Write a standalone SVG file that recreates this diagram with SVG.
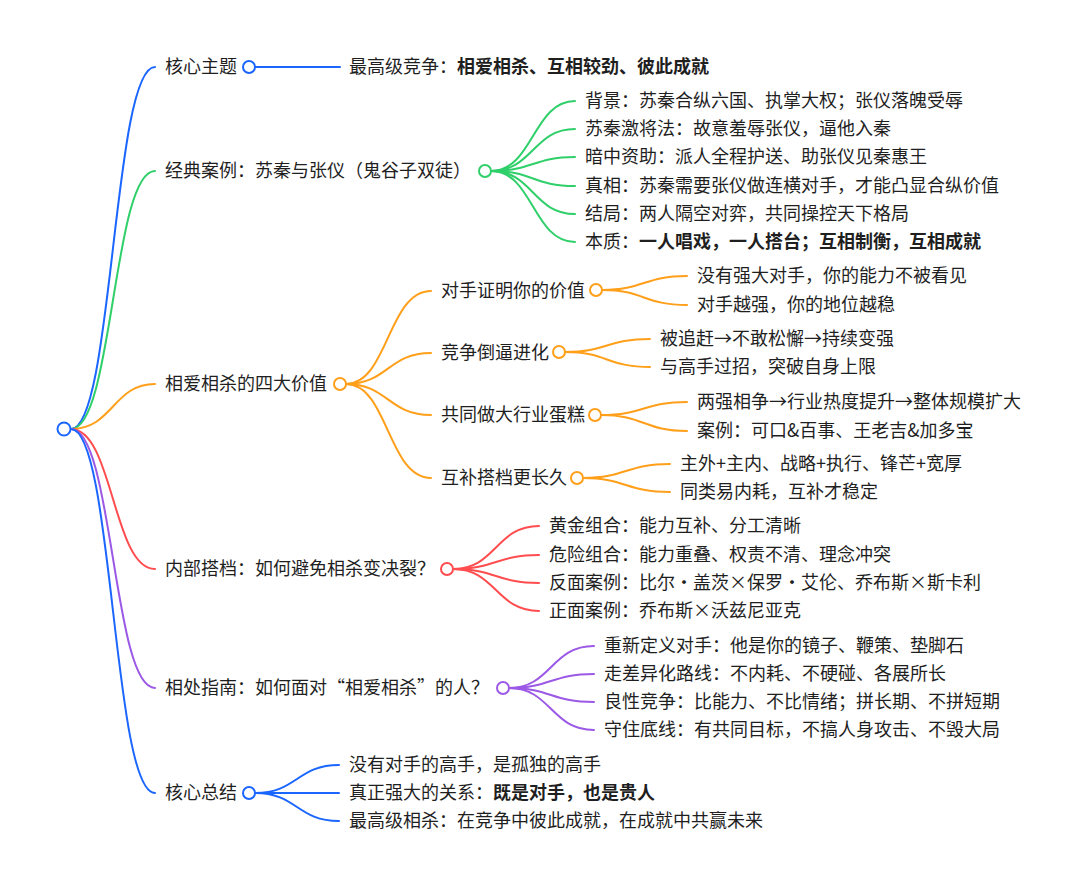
<svg xmlns="http://www.w3.org/2000/svg" width="1080" height="887" viewBox="0 0 1080 887">
<style>
text{font-family:"Noto Sans CJK SC","Noto Sans",sans-serif;font-size:18px;fill:#1f1f1f}
.b{font-weight:bold}
.ln{fill:none;stroke-width:2;stroke-linecap:round}
.dot{fill:#fff;stroke-width:2}
.blue{stroke:#1a66ff}.green{stroke:#2fcf6a}.orange{stroke:#ff9f1a}.red{stroke:#ff4d4f}.purple{stroke:#9b59e6}
</style>
<rect width="1080" height="887" fill="#fff"/>
<g id="connectors">
<path class="ln blue" d="M71 429 C113 429 113 67 155 67"/>
<path class="ln green" d="M71 429 C113 429 113 171 155 171"/>
<path class="ln orange" d="M71 429 C113 429 113 384 155 384"/>
<path class="ln red" d="M71 429 C113 429 113 569 155 569"/>
<path class="ln purple" d="M71 429 C113 429 113 688 155 688"/>
<path class="ln blue" d="M71 429 C113 429 113 793 155 793"/>
<path class="ln blue" d="M255 67 L340 67"/>
<path class="ln green" d="M491 171 C533 171 533 101 575 101"/>
<path class="ln green" d="M491 171 C533 171 533 129 575 129"/>
<path class="ln green" d="M491 171 C533 171 533 157 575 157"/>
<path class="ln green" d="M491 171 C533 171 533 186 575 186"/>
<path class="ln green" d="M491 171 C533 171 533 214 575 214"/>
<path class="ln green" d="M491 171 C533 171 533 242 575 242"/>
<path class="ln orange" d="M346 384 C388 384 388 291 431 291"/>
<path class="ln orange" d="M346 384 C388 384 388 353 431 353"/>
<path class="ln orange" d="M346 384 C388 384 388 415 431 415"/>
<path class="ln orange" d="M346 384 C388 384 388 478 431 478"/>
<path class="ln orange" d="M602 290 C644 290 644 276 687 276"/>
<path class="ln orange" d="M602 290 C644 290 644 305 687 305"/>
<path class="ln orange" d="M565 352 C607 352 607 339 650 339"/>
<path class="ln orange" d="M565 352 C607 352 607 367 650 367"/>
<path class="ln orange" d="M601 415 C644 415 644 402 687 402"/>
<path class="ln orange" d="M601 415 C644 415 644 431 687 431"/>
<path class="ln orange" d="M583 478 C626 478 626 464 670 464"/>
<path class="ln orange" d="M583 478 C626 478 626 492 670 492"/>
<path class="ln red" d="M453 569 C496 569 496 526 539 526"/>
<path class="ln red" d="M453 569 C496 569 496 555 539 555"/>
<path class="ln red" d="M453 569 C496 569 496 583 539 583"/>
<path class="ln red" d="M453 569 C496 569 496 611 539 611"/>
<path class="ln purple" d="M509 688 C551 688 551 646 594 646"/>
<path class="ln purple" d="M509 688 C551 688 551 674 594 674"/>
<path class="ln purple" d="M509 688 C551 688 551 702 594 702"/>
<path class="ln purple" d="M509 688 C551 688 551 730 594 730"/>
<path class="ln blue" d="M255 793 C297 793 297 765 339 765"/>
<path class="ln blue" d="M255 793 C297 793 297 793 339 793"/>
<path class="ln blue" d="M255 793 C297 793 297 821 339 821"/>
</g>
<g id="root"><circle class="dot blue" cx="64" cy="429" r="6.5"/></g>
<g id="n1"><text x="165" y="73">核心主题</text><circle class="dot blue" cx="249" cy="67" r="6"/></g>
<g id="n1a"><text x="349" y="73">最高级竞争：<tspan class="b">相爱相杀、互相较劲、彼此成就</tspan></text></g>
<g id="n2"><text x="165" y="177">经典案例：苏秦与张仪（鬼谷子双徒）</text><circle class="dot green" cx="485" cy="171" r="6"/></g>
<g id="n2a"><text x="585" y="107">背景：苏秦合纵六国、执掌大权；张仪落魄受辱</text></g>
<g id="n2b"><text x="585" y="135">苏秦激将法：故意羞辱张仪，逼他入秦</text></g>
<g id="n2c"><text x="585" y="163">暗中资助：派人全程护送、助张仪见秦惠王</text></g>
<g id="n2d"><text x="585" y="192">真相：苏秦需要张仪做连横对手，才能凸显合纵价值</text></g>
<g id="n2e"><text x="585" y="220">结局：两人隔空对弈，共同操控天下格局</text></g>
<g id="n2f"><text x="585" y="248">本质：<tspan class="b">一人唱戏，一人搭台；互相制衡，互相成就</tspan></text></g>
<g id="n3"><text x="165" y="390">相爱相杀的四大价值</text><circle class="dot orange" cx="340" cy="384" r="6"/></g>
<g id="n3a"><text x="441" y="297">对手证明你的价值</text><circle class="dot orange" cx="596" cy="290" r="6"/></g>
<g id="n3a1"><text x="697" y="282">没有强大对手，你的能力不被看见</text></g>
<g id="n3a2"><text x="697" y="311">对手越强，你的地位越稳</text></g>
<g id="n3b"><text x="441" y="359">竞争倒逼进化</text><circle class="dot orange" cx="559" cy="352" r="6"/></g>
<g id="n3b1"><text x="660" y="345">被追赶→不敢松懈→持续变强</text></g>
<g id="n3b2"><text x="660" y="373">与高手过招，突破自身上限</text></g>
<g id="n3c"><text x="441" y="421">共同做大行业蛋糕</text><circle class="dot orange" cx="595" cy="415" r="6"/></g>
<g id="n3c1"><text x="697" y="408">两强相争→行业热度提升→整体规模扩大</text></g>
<g id="n3c2"><text x="697" y="437">案例：可口&amp;百事、王老吉&amp;加多宝</text></g>
<g id="n3d"><text x="441" y="484">互补搭档更长久</text><circle class="dot orange" cx="577" cy="478" r="6"/></g>
<g id="n3d1"><text x="680" y="470">主外+主内、战略+执行、锋芒+宽厚</text></g>
<g id="n3d2"><text x="680" y="498">同类易内耗，互补才稳定</text></g>
<g id="n4"><text x="165" y="575">内部搭档：如何避免相杀变决裂？</text><circle class="dot red" cx="447" cy="569" r="6"/></g>
<g id="n4a"><text x="549" y="532">黄金组合：能力互补、分工清晰</text></g>
<g id="n4b"><text x="549" y="561">危险组合：能力重叠、权责不清、理念冲突</text></g>
<g id="n4c"><text x="549" y="589">反面案例：比尔・盖茨×保罗・艾伦、乔布斯×斯卡利</text></g>
<g id="n4d"><text x="549" y="617">正面案例：乔布斯×沃兹尼亚克</text></g>
<g id="n5"><text x="165" y="694">相处指南：如何面对“相爱相杀”的人？</text><circle class="dot purple" cx="503" cy="688" r="6"/></g>
<g id="n5a"><text x="604" y="652">重新定义对手：他是你的镜子、鞭策、垫脚石</text></g>
<g id="n5b"><text x="604" y="680">走差异化路线：不内耗、不硬碰、各展所长</text></g>
<g id="n5c"><text x="604" y="708">良性竞争：比能力、不比情绪；拼长期、不拼短期</text></g>
<g id="n5d"><text x="604" y="736">守住底线：有共同目标，不搞人身攻击、不毁大局</text></g>
<g id="n6"><text x="165" y="799">核心总结</text><circle class="dot blue" cx="249" cy="793" r="6"/></g>
<g id="n6a"><text x="349" y="771">没有对手的高手，是孤独的高手</text></g>
<g id="n6b"><text x="349" y="799">真正强大的关系：<tspan class="b">既是对手，也是贵人</tspan></text></g>
<g id="n6c"><text x="349" y="827">最高级相杀：在竞争中彼此成就，在成就中共赢未来</text></g>
</svg>
